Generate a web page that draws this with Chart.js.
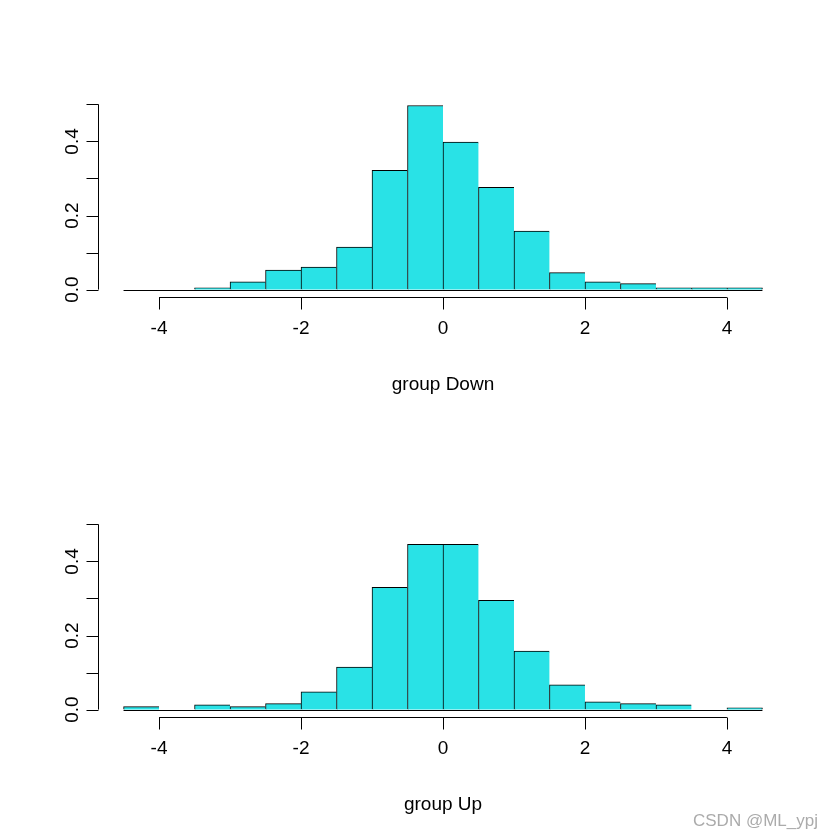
<!DOCTYPE html>
<html>
<head>
<meta charset="utf-8">
<title>group Down / group Up</title>
<script src="https://cdn.jsdelivr.net/npm/chart.js@4/dist/chart.umd.min.js"></script>
<style>
  body { margin: 0; background: #fff; }
  #wrap { position: relative; width: 840px; height: 840px; }
  canvas { display: block; }
  #mark {
    position: absolute; left: 693px; top: 812px;
    font: 17px "Liberation Sans", Arial, sans-serif; line-height: 17px;
    color: #ababab; white-space: nowrap;
  }
</style>
</head>
<body>
<div id="wrap">
  <canvas id="down" width="840" height="420"></canvas>
  <canvas id="up" width="840" height="420"></canvas>
  <div id="mark">CSDN @ML_ypj</div>
</div>
<script>
'use strict';

// bin midpoints (breaks from -4.5 to 4.5, width 0.5)
var binMids = [-4.25, -3.75, -3.25, -2.75, -2.25, -1.75, -1.25, -0.75, -0.25,
  0.25, 0.75, 1.25, 1.75, 2.25, 2.75, 3.25, 3.75, 4.25];
var binEdges = [-4.5, 4.5];

// densities
var downDensity = [0, 0, 0.005, 0.021, 0.053, 0.061, 0.115, 0.322, 0.497,
  0.398, 0.276, 0.158, 0.046, 0.021, 0.016, 0.005, 0.005, 0.005];
var upDensity = [0.008, 0, 0.013, 0.008, 0.016, 0.048, 0.115, 0.330, 0.446,
  0.446, 0.295, 0.158, 0.067, 0.021, 0.016, 0.013, 0, 0.005];

var xTicks = [-4, -2, 0, 2, 4];
var xLabels = ['-4', '-2', '0', '2', '4'];
var yTicks = [0, 0.1, 0.2, 0.3, 0.4, 0.5];
var yLabels = ['0.0', '', '0.2', '', '0.4', ''];

var FONT = '19px "Liberation Sans", Arial, sans-serif';
var FILL = 'rgb(41,226,230)';

// R style axes: lines only span the ticks, labels parallel to the axis
var rAxes = {
  id: 'rAxes',
  afterDraw: function(chart, args, opts) {
    var ctx = chart.ctx;
    var xs = chart.scales.x;
    var ys = chart.scales.y;
    var area = chart.chartArea;
    var i, px, py;
    ctx.save();
    ctx.strokeStyle = '#000';
    ctx.fillStyle = '#000';
    ctx.lineWidth = 1;
    ctx.font = FONT;

    // histogram baseline
    py = Math.round(ys.getPixelForValue(0)) + 0.5;
    ctx.beginPath();
    ctx.moveTo(xs.getPixelForValue(binEdges[0]), py);
    ctx.lineTo(xs.getPixelForValue(binEdges[1]), py);
    ctx.stroke();

    // x axis
    var bottom = Math.round(area.bottom) + 0.5;
    ctx.beginPath();
    ctx.moveTo(xs.getPixelForValue(xTicks[0]), bottom);
    ctx.lineTo(xs.getPixelForValue(xTicks[xTicks.length - 1]), bottom);
    for (i = 0; i < xTicks.length; i++) {
      px = Math.round(xs.getPixelForValue(xTicks[i])) + 0.5;
      ctx.moveTo(px, bottom);
      ctx.lineTo(px, bottom + 12);
    }
    ctx.stroke();
    ctx.textAlign = 'center';
    ctx.textBaseline = 'alphabetic';
    for (i = 0; i < xTicks.length; i++) {
      ctx.fillText(xLabels[i], xs.getPixelForValue(xTicks[i]), bottom + 36);
    }
    ctx.fillText(opts.title, (area.left + area.right) / 2, bottom + 92);

    // y axis
    var left = Math.round(area.left) + 0.5;
    ctx.beginPath();
    ctx.moveTo(left, ys.getPixelForValue(yTicks[0]));
    ctx.lineTo(left, ys.getPixelForValue(yTicks[yTicks.length - 1]));
    for (i = 0; i < yTicks.length; i++) {
      py = Math.round(ys.getPixelForValue(yTicks[i])) + 0.5;
      ctx.moveTo(left, py);
      ctx.lineTo(left - 12, py);
    }
    ctx.stroke();
    for (i = 0; i < yTicks.length; i++) {
      if (!yLabels[i]) continue;
      ctx.save();
      ctx.translate(left - 21, ys.getPixelForValue(yTicks[i]));
      ctx.rotate(-Math.PI / 2);
      ctx.fillText(yLabels[i], 0, 0);
      ctx.restore();
    }
    ctx.restore();
  }
};

function makeHist(id, values, title) {
  var points = [];
  for (var i = 0; i < binMids.length; i++) {
    points.push({ x: binMids[i], y: values[i] });
  }
  var last = points.length - 1;
  return new Chart(document.getElementById(id).getContext('2d'), {
    type: 'bar',
    data: {
      datasets: [{
        data: points,
        backgroundColor: FILL,
        borderColor: '#000',
        borderSkipped: false,
        borderWidth: function(c) {
          return { left: 1, top: 1, bottom: 0, right: c.dataIndex === last ? 1 : 0 };
        },
        barPercentage: 1,
        categoryPercentage: 1
      }]
    },
    options: {
      responsive: false,
      animation: false,
      layout: { padding: { left: 98, right: 52, top: 97, bottom: 123 } },
      scales: {
        x: { type: 'linear', min: -4.86, max: 4.86, offset: false, display: false },
        y: { min: -0.02, max: 0.52, display: false }
      },
      plugins: {
        legend: { display: false },
        tooltip: { enabled: false },
        rAxes: { title: title }
      }
    },
    plugins: [rAxes]
  });
}

var downChart = makeHist('down', downDensity, 'group Down');
var upChart = makeHist('up', upDensity, 'group Up');
</script>
</body>
</html>
